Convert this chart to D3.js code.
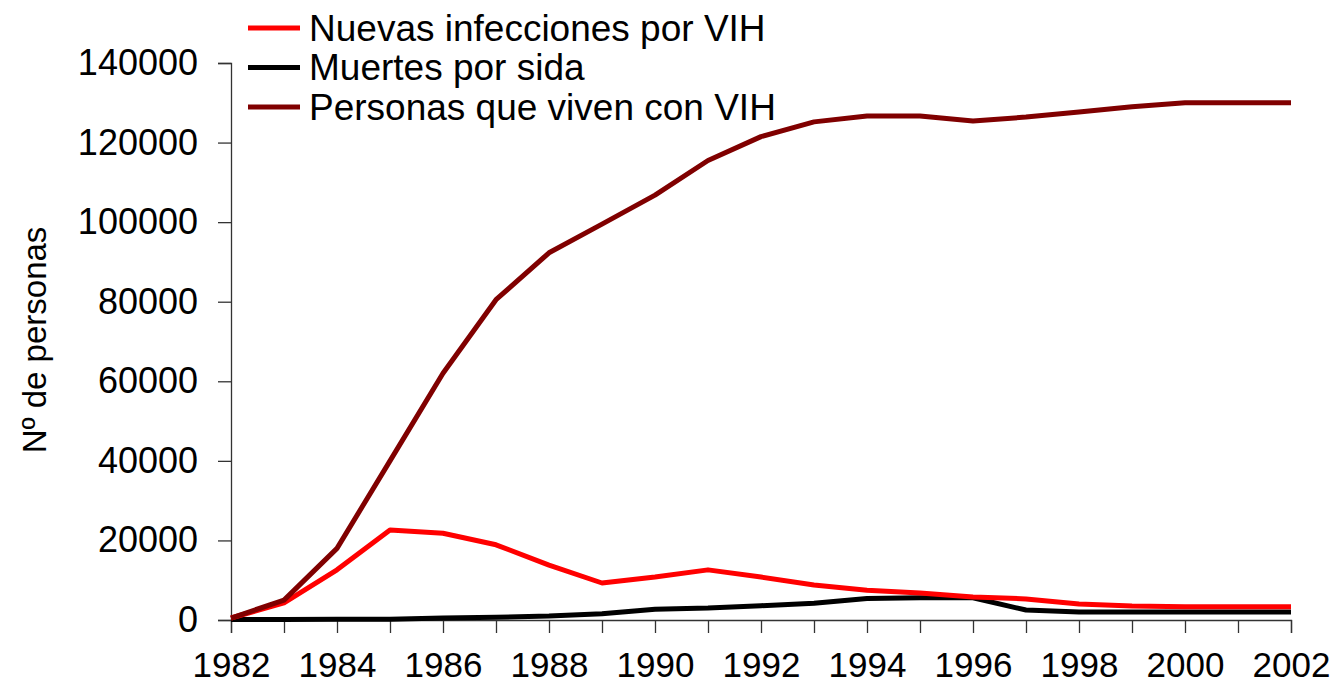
<!DOCTYPE html>
<html>
<head>
<meta charset="utf-8">
<script src="https://cdn.jsdelivr.net/npm/d3@7"></script>
<style>
  body { margin: 0; background: #fff; }
  svg { display: block; font-family: "Liberation Sans", Arial, sans-serif; }
</style>
</head>
<body>
<div id="chart"></div>
<script>
// datos
const years = d3.range(1982, 2003);
const nuevasInfecciones = [500, 4300, 12600, 22600, 21800, 18900, 13800, 9300, 10800, 12600, 10800,
  8800, 7500, 6800, 5800, 5300, 4000, 3500, 3300, 3300, 3300];
const muertesSida = [100, 150, 200, 200, 500, 700, 1000, 1600, 2700, 3000, 3600,
  4200, 5400, 5600, 5600, 2500, 2000, 2000, 2000, 2000, 2000];
const personasVIH = [500, 5000, 18000, 40000, 62000, 80500, 92300, 99500, 106800, 115500, 121500,
  125200, 126700, 126700, 125400, 126400, 127700, 129000, 130000, 130000, 130000];
const seriesNames = ["Nuevas infecciones por VIH", "Muertes por sida", "Personas que viven con VIH"];
const seriesColors = ["#ff0000", "#000000", "#800000"];
const yTicks = [0, 20000, 40000, 60000, 80000, 100000, 120000, 140000];

const width = 1339, height = 689;
const margin = { top: 63, right: 48, bottom: 69, left: 231 };

const svg = d3.select("#chart")
  .append("svg")
  .attr("width", width)
  .attr("height", height);

const x = d3.scaleLinear()
  .domain([1982, 2002])
  .range([margin.left, width - margin.right]);
const y = d3.scaleLinear()
  .domain([0, 140000])
  .range([height - margin.bottom, margin.top]);

// eje Y
const yAxis = svg.append("g")
  .attr("transform", "translate(" + margin.left + ",0)")
  .call(d3.axisLeft(y).tickValues(yTicks).tickSize(13).tickPadding(20).tickFormat(d3.format("d")));
yAxis.selectAll("text").style("font-size", "36px").attr("fill", "#000");

// eje X
const xAxis = svg.append("g")
  .attr("transform", "translate(0," + (height - margin.bottom) + ")")
  .call(d3.axisBottom(x).tickValues(years).tickSize(13).tickPadding(19)
    .tickFormat(d => d % 2 === 0 ? d : ""));
xAxis.selectAll("text").style("font-size", "35px").attr("fill", "#000");

svg.selectAll(".domain").attr("stroke", "#333").attr("stroke-width", 1.3);
svg.selectAll(".tick line").attr("stroke", "#333").attr("stroke-width", 1.3);

// titulo eje Y
svg.append("text")
  .attr("transform", "rotate(-90)")
  .attr("x", -340)
  .attr("y", 46)
  .style("text-anchor", "middle")
  .style("font-size", "33px")
  .text("Nº de personas");

const line = d3.line()
  .x((d, i) => x(years[i]))
  .y(d => y(d));

const allSeries = [nuevasInfecciones, muertesSida, personasVIH];

// primero la negra, luego roja, luego granate
[1, 0, 2].forEach(i => {
  svg.append("path")
    .datum(allSeries[i])
    .attr("fill", "none")
    .attr("stroke", seriesColors[i])
    .attr("stroke-width", 5)
    .attr("stroke-linejoin", "round")
    .attr("d", line);
});

// leyenda
const legend = svg.append("g").attr("transform", "translate(248,28)");
seriesNames.forEach((name, i) => {
  const row = legend.append("g").attr("transform", "translate(0," + (i * 39.5) + ")");
  row.append("line")
    .attr("x1", 0).attr("x2", 52)
    .attr("stroke", seriesColors[i])
    .attr("stroke-width", 5);
  row.append("text")
    .attr("x", 61)
    .attr("dy", "0.35em")
    .style("font-size", "37px")
    .text(name);
});
</script>
</body>
</html>
